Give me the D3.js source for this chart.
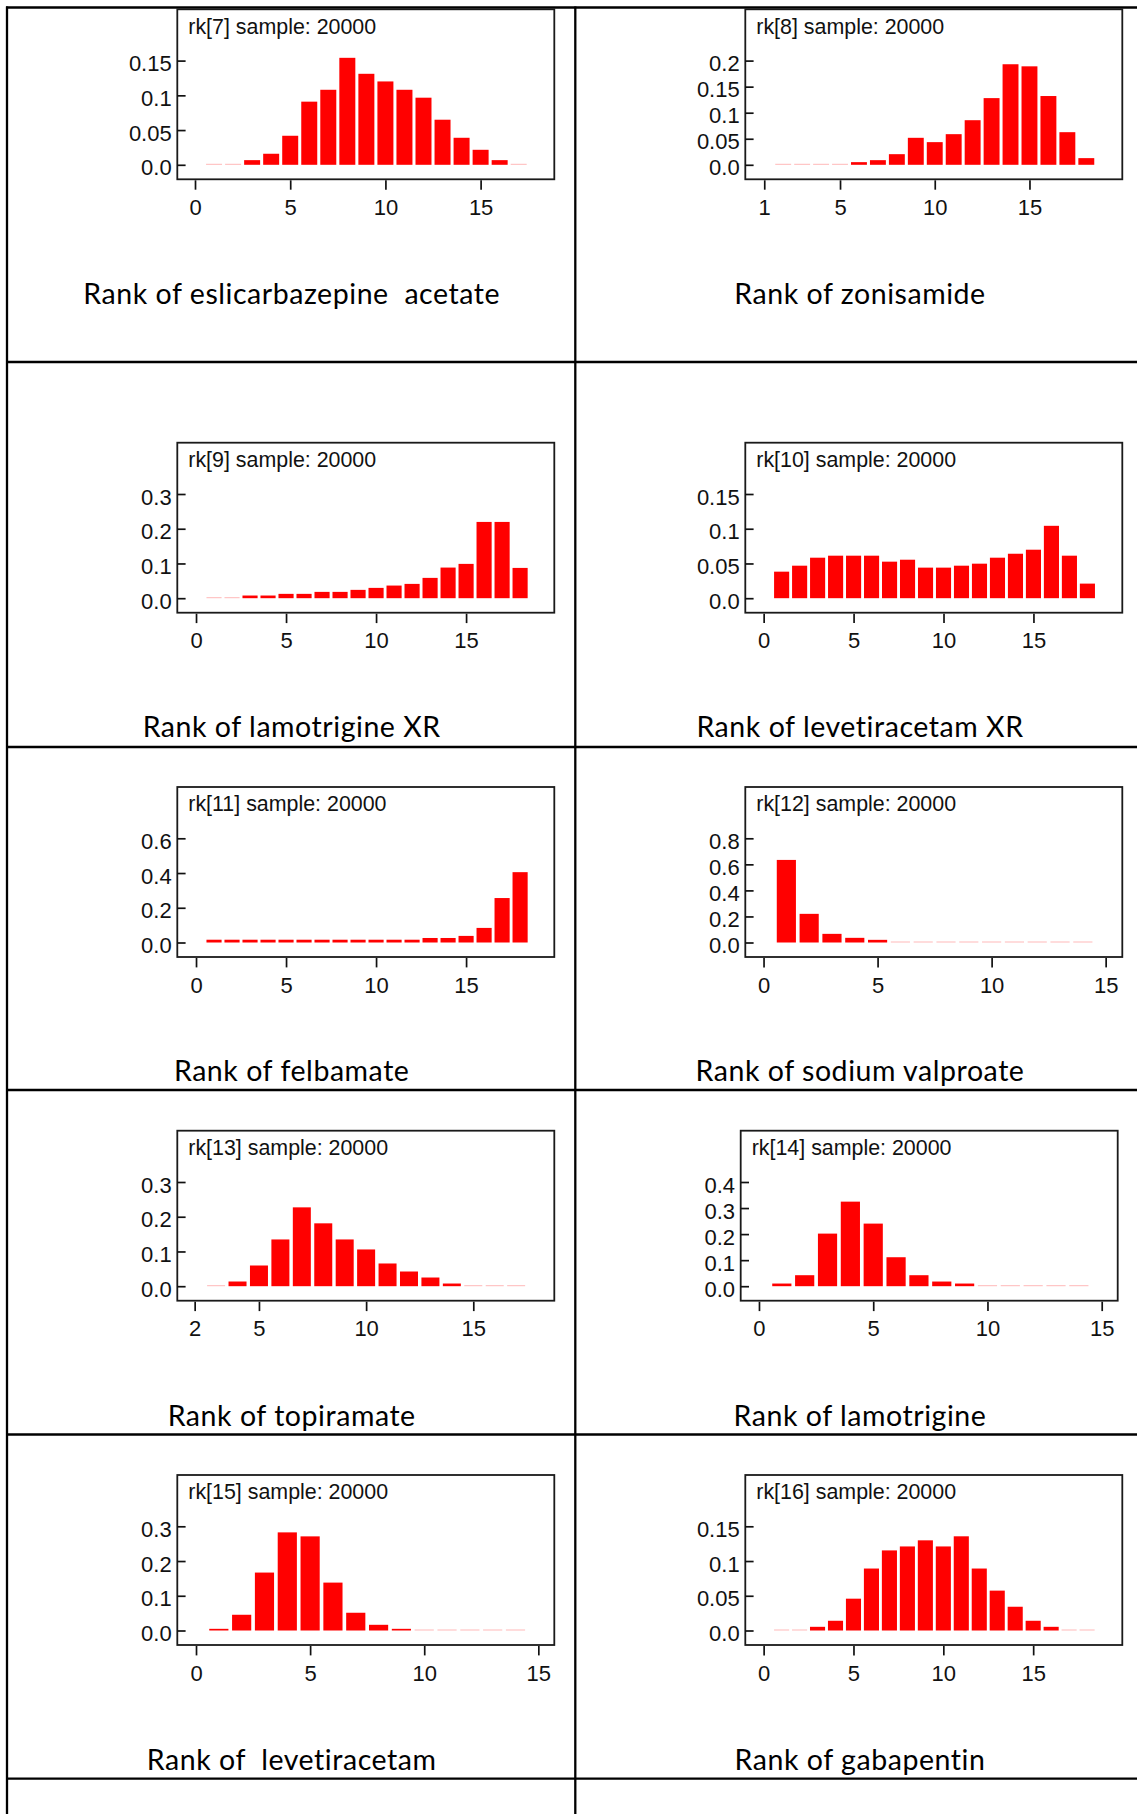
<html>
<head>
  <title>Rank histograms</title>
  <script src="https://d3js.org/d3.v7.min.js"></script>
  <style>
    body { margin: 0; background: white; }
    .axis text { font-family: "Liberation Sans", Arial, sans-serif; font-size: 22px; fill: #111; }
    .axis line { stroke: #111; stroke-width: 1.7; }
    .node-label { font-family: "Liberation Sans", Arial, sans-serif; font-size: 21.4px; fill: #111; }
    .drug-label { font-family: Lato, sans-serif; font-size: 28.5px; letter-spacing: 0.55px; fill: #000; white-space: pre; }
  </style>
</head>
<body>
<svg width="1137" height="1814"></svg>
<script>

  // ---- data ----
  let nodeIds = [7, 8, 9, 10, 11, 12, 13, 14, 15, 16];
  let drugNames = ["eslicarbazepine  acetate", "zonisamide", "lamotrigine XR", "levetiracetam XR",
    "felbamate", "sodium valproate", "topiramate", "lamotrigine", " levetiracetam", "gabapentin"];
  let sampleSize = 20000;
  let firstRank = [1, 2, 1, 1, 1, 1, 3, 1, 1, 1];

  let rk7 = [0.0005, 0.0005, 0.0067, 0.0159, 0.0418, 0.0909, 0.108, 0.154, 0.131, 0.120, 0.108, 0.0966, 0.0649, 0.0389, 0.0216, 0.0067, 0.0005];
  let rk8 = [0.0005, 0.0005, 0.0005, 0.0005, 0.0051, 0.0089, 0.0204, 0.0518, 0.0435, 0.0588, 0.0856, 0.128, 0.193, 0.189, 0.132, 0.0626, 0.0128];
  let rk9 = [0.0005, 0.0005, 0.0077, 0.0077, 0.0125, 0.0125, 0.0182, 0.0182, 0.024, 0.0297, 0.0364, 0.0412, 0.0585, 0.0882, 0.0988, 0.2196, 0.2196, 0.0872];
  let rk10 = [0.0382, 0.0468, 0.0583, 0.0612, 0.0612, 0.0612, 0.0526, 0.0554, 0.044, 0.044, 0.0468, 0.0497, 0.0583, 0.064, 0.0698, 0.1042, 0.0612, 0.021];
  let rk11 = [0.016, 0.016, 0.016, 0.016, 0.016, 0.016, 0.016, 0.016, 0.016, 0.016, 0.016, 0.016, 0.026, 0.026, 0.038, 0.084, 0.256, 0.405];
  let rk12 = [0.634, 0.22, 0.0664, 0.0358, 0.0204, 0.0005, 0.0005, 0.0005, 0.0005, 0.0005, 0.0005, 0.0005, 0.0005, 0.0005];
  let rk13 = [0.0005, 0.0135, 0.0596, 0.1346, 0.227, 0.181, 0.1346, 0.1058, 0.0654, 0.0423, 0.025, 0.0077, 0.0005, 0.0005, 0.0005];
  let rk14 = [0.0102, 0.0422, 0.2019, 0.3246, 0.2403, 0.1112, 0.0422, 0.0179, 0.0102, 0.0005, 0.0005, 0.0005, 0.0005, 0.0005];
  let rk15 = [0.0048, 0.0453, 0.1668, 0.2825, 0.271, 0.1379, 0.0511, 0.0164, 0.0048, 0.0005, 0.0005, 0.0005, 0.0005, 0.0005];
  let rk16 = [0.0005, 0.0005, 0.0053, 0.014, 0.0458, 0.0892, 0.1153, 0.121, 0.1298, 0.121, 0.1356, 0.0892, 0.0574, 0.0342, 0.014, 0.0053, 0.0005, 0.0005];
  let rankProbs = [rk7, rk8, rk9, rk10, rk11, rk12, rk13, rk14, rk15, rk16];

  let yTicks = [
    [0, 0.05, 0.1, 0.15], [0, 0.05, 0.1, 0.15, 0.2], [0, 0.1, 0.2, 0.3], [0, 0.05, 0.1, 0.15],
    [0, 0.2, 0.4, 0.6], [0, 0.2, 0.4, 0.6, 0.8], [0, 0.1, 0.2, 0.3], [0, 0.1, 0.2, 0.3, 0.4],
    [0, 0.1, 0.2, 0.3], [0, 0.05, 0.1, 0.15]];
  let xTicks = [
    [0, 5, 10, 15], [1, 5, 10, 15], [0, 5, 10, 15], [0, 5, 10, 15], [0, 5, 10, 15],
    [0, 5, 10, 15], [2, 5, 10, 15], [0, 5, 10, 15], [0, 5, 10, 15], [0, 5, 10, 15]];
  let xDomains = [
    [-0.93, 18.87], [0.0, 19.9], [-1.04, 19.9], [-1.02, 19.94], [-1.04, 19.9],
    [-0.8, 15.73], [1.19, 18.78], [-0.8, 15.7], [-0.82, 15.7], [-1.02, 19.96]];

  // ---- page layout (table cells + plot boxes) ----
  let boxW = 377, boxH = 170;
  let boxX = [177.3, 745.3, 177.3, 745.3, 177.3, 745.3, 177.3, 740.7, 177.3, 745.3];
  let boxY = [9.3, 9.3, 442.7, 442.7, 787, 787, 1130.7, 1130.7, 1475, 1475];
  let labelBaseline = [304, 304, 737, 737, 1081, 1081, 1426, 1426, 1769.5, 1769.5];
  let colCenter = [291.7, 860];
  let rowLines = [7.5, 362, 747, 1090, 1434.5, 1778.7];
  let colLines = [7, 575.3];

  let svg = d3.select("svg");

  // table grid
  svg.selectAll("line.row")
    .data(rowLines)
    .join("line")
    .attr("class", "row")
    .attr("x1", 6).attr("x2", 1137)
    .attr("y1", d => d).attr("y2", d => d)
    .style("stroke", "#000").style("stroke-width", 2.3);

  svg.selectAll("line.col")
    .data(colLines)
    .join("line")
    .attr("class", "col")
    .attr("x1", d => d).attr("x2", d => d)
    .attr("y1", 6.5).attr("y2", 1814)
    .style("stroke", "#000").style("stroke-width", 2.3);

  rankProbs.forEach((probs, i) => {
    let left = boxX[i], top = boxY[i];
    let yTop = yTicks[i][yTicks[i].length - 1];

    let x = d3.scaleLinear().domain(xDomains[i]).range([left, left + boxW]);
    let y = d3.scaleLinear().domain([0, yTop]).range([top + 155.5, top + 51.3]);

    let g = svg.append("g");

    // bars (tiny probabilities show up as a pale 1px line)
    let halfW = 0.42;
    g.selectAll("rect.bar")
      .data(probs)
      .join("rect")
      .attr("class", "bar")
      .attr("x", (d, j) => x(firstRank[i] + j - halfW))
      .attr("width", (d, j) => x(firstRank[i] + j + halfW) - x(firstRank[i] + j - halfW))
      .attr("y", d => y(0) - Math.max(y(0) - y(d), 1))
      .attr("height", d => Math.max(y(0) - y(d), 1))
      .style("fill", "#ff0000")
      .style("fill-opacity", d => (y(0) - y(d)) < 1 ? 0.28 : 1);

    // frame
    g.append("rect")
      .attr("x", left).attr("y", top)
      .attr("width", boxW).attr("height", boxH)
      .style("fill", "none")
      .style("stroke", "#1a1a1a")
      .style("stroke-width", 1.8);

    // y axis: ticks inside the frame, labels outside
    let yAxis = d3.axisLeft(y)
      .tickValues(yTicks[i])
      .tickFormat(d => d === 0 ? "0.0" : String(d))
      .tickSize(-8.3)
      .tickPadding(5.6);
    let ya = g.append("g")
      .attr("class", "axis")
      .attr("transform", `translate(${left},0)`)
      .call(yAxis);
    ya.select(".domain").remove();
    ya.selectAll("text").attr("dy", "0.46em");

    // x axis below the frame
    let xAxis = d3.axisBottom(x)
      .tickValues(xTicks[i])
      .tickSize(9.4)
      .tickPadding(9.6);
    let xa = g.append("g")
      .attr("class", "axis")
      .attr("transform", `translate(0,${top + boxH + 1})`)
      .call(xAxis);
    xa.select(".domain").remove();

    g.append("text")
      .attr("class", "node-label")
      .attr("x", left + 11)
      .attr("y", top + 24.3)
      .text(`rk[${nodeIds[i]}] sample: ${sampleSize}`);

    svg.append("text")
      .attr("class", "drug-label")
      .attr("x", colCenter[i % 2])
      .attr("y", labelBaseline[i])
      .attr("text-anchor", "middle")
      .text("Rank of " + drugNames[i]);
  });

</script>
</body>
</html>
